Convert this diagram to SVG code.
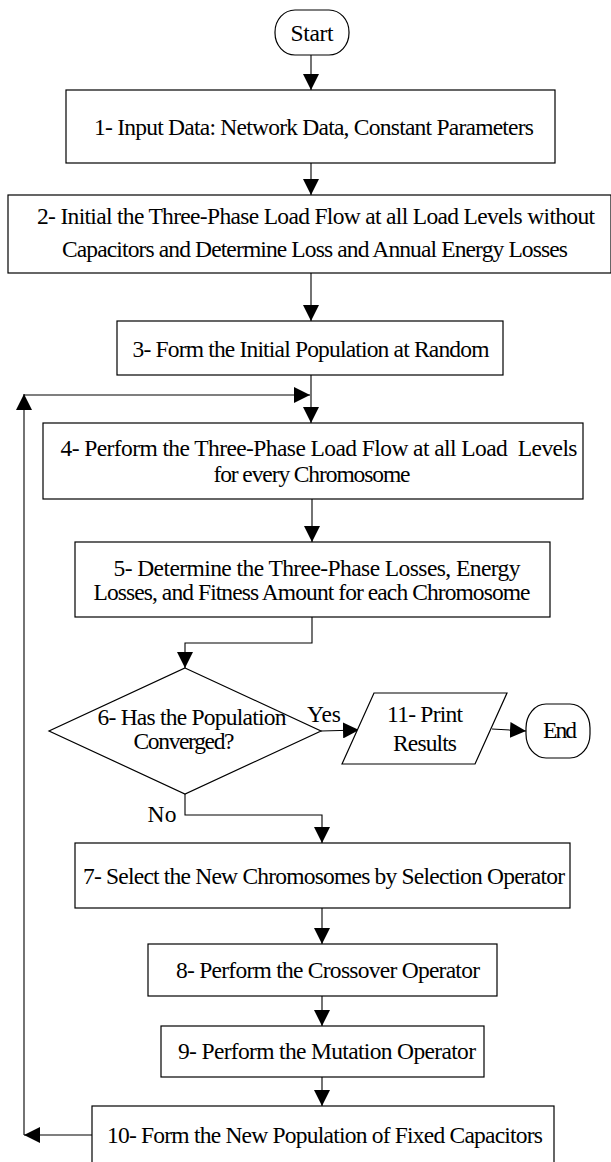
<svg xmlns="http://www.w3.org/2000/svg" width="611" height="1162" viewBox="0 0 611 1162">
<defs>
<marker id="ah" markerUnits="userSpaceOnUse" markerWidth="16" markerHeight="16" viewBox="0 0 15 15" refX="15" refY="7.5" orient="auto">
<path d="M0,0 L15,7.5 L0,15 z" fill="#000"/>
</marker>
</defs>
<style>
.box{fill:#fff;stroke:#000;stroke-width:1.2}
text{font-family:'Liberation Serif','Times New Roman',serif;font-size:23.5px;fill:#000;text-anchor:middle}
.c{fill:none;stroke:#000;stroke-width:1.1}
</style>
<rect width="611" height="1162" fill="#fff"/>
<g id="connectors">
<path class="c" d="M311,55 L311,90" marker-end="url(#ah)"/>
<path class="c" d="M311,163 L311,195" marker-end="url(#ah)"/>
<path class="c" d="M311,273 L311,321" marker-end="url(#ah)"/>
<path class="c" d="M311,375 L311,423" marker-end="url(#ah)"/>
<path class="c" d="M92,1135 L24,1135" marker-end="url(#ah)"/>
<path class="c" d="M24,1135 L24,394" marker-end="url(#ah)"/>
<path class="c" d="M24,395 L310,395" marker-end="url(#ah)"/>
<path class="c" d="M312,499 L312,542" marker-end="url(#ah)"/>
<path class="c" d="M312,617 L312,643 L185,643 L185,668" marker-end="url(#ah)"/>
<path class="c" d="M321,731 L359,730" marker-end="url(#ah)"/>
<path class="c" d="M492,729 L526,731" marker-end="url(#ah)"/>
<path class="c" d="M185,794 L185,815 L322,815 L322,843" marker-end="url(#ah)"/>
<path class="c" d="M322,908 L322,944" marker-end="url(#ah)"/>
<path class="c" d="M322,996 L322,1026" marker-end="url(#ah)"/>
<path class="c" d="M322,1077 L322,1106" marker-end="url(#ah)"/>
<text x="324" y="722" textLength="34">Yes</text>
<text x="162" y="822" textLength="29">No</text>
</g>
<g id="start">
<rect class="box" x="275" y="10" width="74" height="45" rx="20" ry="22"/>
<text x="312" y="41" textLength="43">Start</text>
</g>
<g id="n1">
<rect class="box" x="66" y="90" width="489" height="73"/>
<text x="314" y="135" textLength="440">1- Input Data: Network Data, Constant Parameters</text>
</g>
<g id="n2">
<rect class="box" x="8" y="195" width="603" height="78"/>
<text x="316" y="224" textLength="558">2- Initial the Three-Phase Load Flow at all Load Levels without</text>
<text x="315" y="257" textLength="506">Capacitors and Determine Loss and Annual Energy Losses</text>
</g>
<g id="n3">
<rect class="box" x="117" y="321" width="386" height="54"/>
<text x="311" y="357" textLength="357">3- Form the Initial Population at Random</text>
</g>
<g id="n4">
<rect class="box" x="43" y="423" width="540" height="76"/>
<text x="319" y="456" textLength="517" xml:space="preserve">4- Perform the Three-Phase Load Flow at all Load  Levels</text>
<text x="312" y="482" textLength="197">for every Chromosome</text>
</g>
<g id="n5">
<rect class="box" x="75" y="542" width="475" height="75"/>
<text x="317" y="576" textLength="407">5- Determine the Three-Phase Losses, Energy</text>
<text x="312" y="600" textLength="437">Losses, and Fitness Amount for each Chromosome</text>
</g>
<g id="n6">
<polygon class="box" points="185,668 321,731 185,794 49,731"/>
<text x="192" y="725" textLength="189">6- Has the Population</text>
<text x="184" y="749" textLength="101">Converged?</text>
</g>
<g id="n11">
<polygon class="box" points="374,693 507,693 475,764 342,764"/>
<text x="425" y="722" textLength="76">11- Print</text>
<text x="425" y="751" textLength="64">Results</text>
</g>
<g id="end">
<rect class="box" x="526" y="704" width="64" height="54" rx="20" ry="24"/>
<text x="560" y="738" textLength="34">End</text>
</g>
<g id="n7">
<rect class="box" x="75" y="843" width="495" height="65"/>
<text x="324" y="884" textLength="482">7- Select the New Chromosomes by Selection Operator</text>
</g>
<g id="n8">
<rect class="box" x="148" y="944" width="349" height="52"/>
<text x="328" y="978" textLength="304">8- Perform the Crossover Operator</text>
</g>
<g id="n9">
<rect class="box" x="161" y="1026" width="323" height="51"/>
<text x="327" y="1059" textLength="298">9- Perform the Mutation Operator</text>
</g>
<g id="n10">
<rect class="box" x="92" y="1106" width="462" height="62"/>
<text x="325" y="1143" textLength="436">10- Form the New Population of Fixed Capacitors</text>
</g>
</svg>
